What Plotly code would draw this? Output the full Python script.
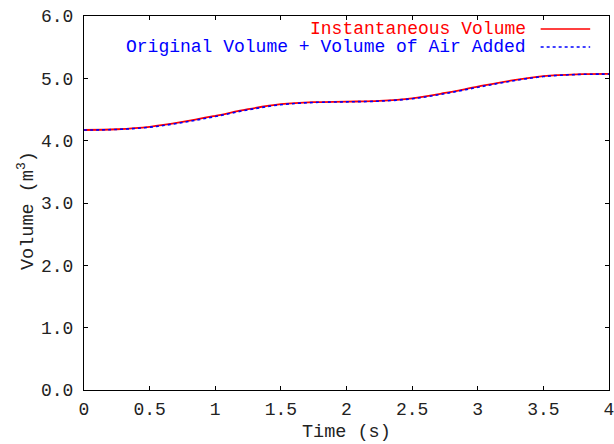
import plotly.graph_objects as go

# Time samples (s)
time_s = [0.0, 0.25, 0.5, 0.75, 1.0, 1.25, 1.5, 1.75, 2.0, 2.25, 2.5, 2.75, 3.0, 3.25, 3.5, 3.75, 4.0]

# Instantaneous volume (m^3)
inst_volume = [4.171, 4.183, 4.222, 4.300, 4.398, 4.505, 4.585, 4.618, 4.626, 4.638, 4.680, 4.765,
               4.866, 4.962, 5.035, 5.064, 5.070]

# Original volume + volume of air added (m^3)
orig_plus_air = [4.170, 4.180, 4.216, 4.291, 4.388, 4.495, 4.577, 4.613, 4.623, 4.634, 4.673, 4.755,
                 4.856, 4.953, 5.029, 5.061, 5.068]

x_ticks = [0, 0.5, 1, 1.5, 2, 2.5, 3, 3.5, 4]
x_tick_text = ["0", "0.5", "1", "1.5", "2", "2.5", "3", "3.5", "4"]
y_ticks = [0, 1, 2, 3, 4, 5, 6]
y_tick_text = ["0.0", "1.0", "2.0", "3.0", "4.0", "5.0", "6.0"]

series_names = ["Instantaneous Volume", "Original Volume + Volume of Air Added"]
series_colors = ["#ff0000", "#0000ff"]

FONT = "Liberation Mono"
TEXT_COLOR = "#222222"
W, H = 614, 444
ML, MR, MT, MB = 84, 0, 16, 54
pw = W - ML - MR
ph = H - MT - MB

fig = go.Figure()
fig.add_trace(go.Scatter(x=time_s, y=inst_volume, mode="lines", name=series_names[0],
                         line=dict(color=series_colors[0], width=1.8, shape="spline", smoothing=1.0)))
fig.add_trace(go.Scatter(x=time_s, y=orig_plus_air, mode="lines", name=series_names[1],
                         line=dict(color=series_colors[1], width=1.6, dash="dot",
                                   shape="spline", smoothing=1.0)))

axis_common = dict(
    showgrid=False, zeroline=False, showline=True, linecolor="#000000", linewidth=1,
    mirror="ticks", ticks="inside", ticklen=4, tickcolor="#000000", tickwidth=1,
    tickfont=dict(family=FONT, size=18, color=TEXT_COLOR),
    ticklabeloverflow="allow",
)

fig.update_xaxes(range=[0, 4], tickmode="array", tickvals=x_ticks, ticktext=x_tick_text,
                 ticklabelstandoff=2, **axis_common)
fig.update_yaxes(range=[0, 6], tickmode="array", tickvals=y_ticks, ticktext=y_tick_text,
                 ticklabelstandoff=6, **axis_common)

# Axis titles
fig.add_annotation(text="Time (s)", xref="paper", yref="paper", x=0.5, y=-(432 - 390) / ph,
                   xanchor="center", yanchor="middle", showarrow=False,
                   font=dict(family=FONT, size=18.5, color=TEXT_COLOR))
fig.add_annotation(text="Volume (m<sup>3</sup>)", xref="paper", yref="paper",
                   x=-(84 - 26) / pw, y=0.48, xanchor="center", yanchor="middle", textangle=-90,
                   showarrow=False, font=dict(family=FONT, size=18.5, color=TEXT_COLOR))

# Key in the top-right corner: right-aligned labels followed by line samples
key_text_right = (532 - ML) / pw
key_rows = [1 - (29 - MT) / ph, 1 - (47 - MT) / ph]
sample_x0 = (545 - ML) / pw
sample_x1 = (595 - ML) / pw
dashes = ["solid", "dot"]
for name, color, yk, dash in zip(series_names, series_colors, key_rows, dashes):
    fig.add_annotation(text=name, xref="paper", yref="paper", x=key_text_right, y=yk,
                       xanchor="right", yanchor="middle", showarrow=False,
                       font=dict(family=FONT, size=18, color=color))
    fig.add_shape(type="line", xref="paper", yref="paper", x0=sample_x0, x1=sample_x1,
                  y0=yk, y1=yk, line=dict(color=color, width=1.3, dash=dash))

fig.update_layout(
    width=W, height=H, showlegend=False,
    margin=dict(l=ML, r=MR, t=MT, b=MB),
    paper_bgcolor="#ffffff", plot_bgcolor="#ffffff",
)

fig.write_html("out.html")
